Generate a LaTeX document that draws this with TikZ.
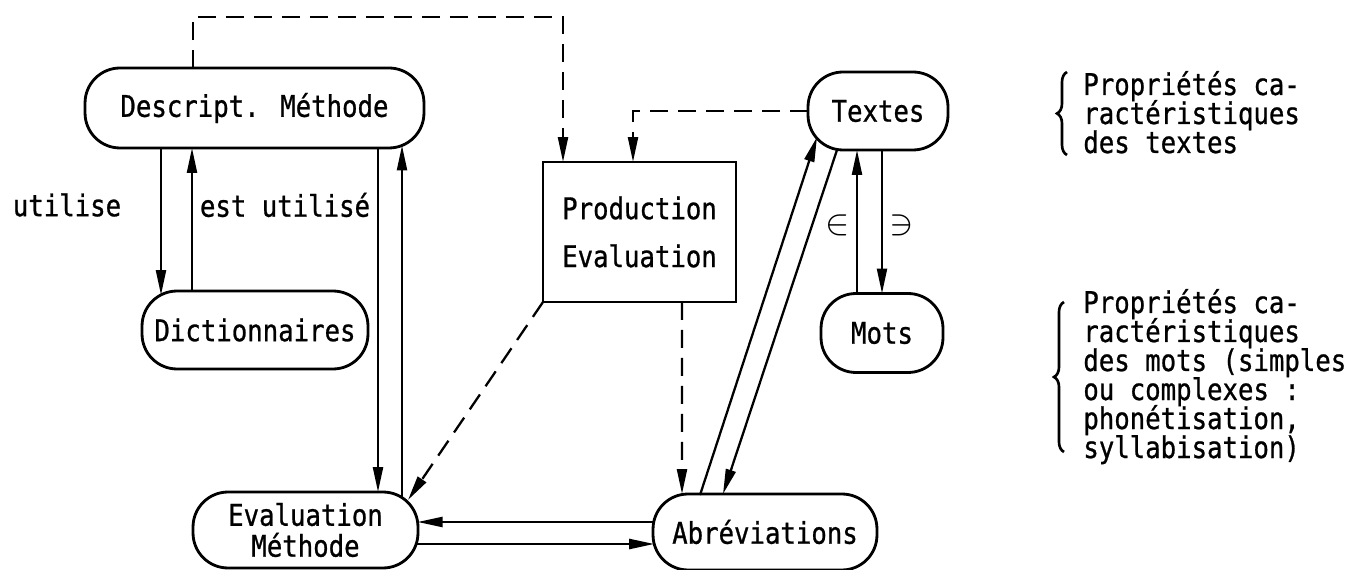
\documentclass[tikz,border=0pt]{standalone}
\usepackage{fontspec}
\setmainfont{DejaVu Sans Mono}[FakeStretch=0.86,FakeBold=0.8]
\usetikzlibrary{calc,arrows.meta,decorations.pathreplacing}
\tikzset{
  every node/.style={font=\fontsize{17}{17.6}\selectfont},
  rbox/.style={draw, line width=1.6pt, rounded corners=0.7cm, inner sep=0pt, outer sep=0pt, align=center},
  sbox/.style={draw, line width=1.5pt, inner sep=0pt, outer sep=0pt, align=center},
  arr/.style={line width=1.3pt, -{Triangle[length=0.5cm,width=0.2cm]}},
  dsh/.style={dash pattern=on 0.36cm off 0.2cm},
  lbl/.style={inner sep=0pt},
  rline/.style={inner sep=0pt, anchor=base west},
  sym/.style={inner sep=0pt, font=\fontsize{22}{22}\selectfont},
  brc/.style={decorate, decoration={brace, amplitude=0.2cm}, line width=1.5pt},
}
\begin{document}
\begin{tikzpicture}[x=0.02cm,y=-0.02cm]
\useasboundingbox (0,0) rectangle (1351,570);

% nodes
\node[rbox, minimum width=6.78cm, minimum height=1.6cm] (desc) at (254.5,108) {Descript. Méthode};
\node[rbox, minimum width=4.52cm, minimum height=1.56cm] (dict) at (255,330) {Dictionnaires};
\node[rbox, minimum width=4.5cm, minimum height=1.52cm, font=\fontsize{17}{17.6}\selectfont] (eval) at (305.5,530) {Evaluation\\Méthode};
\node[sbox, minimum width=3.86cm, minimum height=2.8cm, font=\fontsize{17}{27.3}\selectfont] (prod) at (639.5,232) {Production\\Evaluation};
\node[rbox, minimum width=2.8cm, minimum height=1.56cm] (textes) at (878,111) {Textes};
\node[rbox, minimum width=2.44cm, minimum height=1.58cm] (mots) at (882,333) {Mots};
\node[rbox, minimum width=4.48cm, minimum height=1.52cm] (abrev) at (765,532) {Abréviations};

% labels
\node[lbl] (lutil) at (67,205) {utilise};
\node[lbl] (lestu) at (285,205) {est utilisé};
\node[sym] (lin) at (838,225) {$\in$};
\node[sym] (lni) at (902,225) {$\ni$};

\node[rline] (pt1) at (1083,95) {Propriétés ca-};
\node[rline] (pt2) at (1083,124) {ractéristiques};
\node[rline] (pt3) at (1083,153) {des textes};

\node[rline] (pm1) at (1083,313) {Propriétés ca-};
\node[rline] (pm2) at (1083,342) {ractéristiques};
\node[rline] (pm3) at (1083,371) {des mots (simples};
\node[rline] (pm4) at (1083,400) {ou complexes :};
\node[rline] (pm5) at (1083,429) {phonétisation,};
\node[rline] (pm6) at (1083,458) {syllabisation)};

\coordinate (b1a) at (1067,155);
\coordinate (b1b) at (1067,72);
\coordinate (b2a) at (1064,452);
\coordinate (b2b) at (1064,302);
\draw[brc] (b1a) -- (b1b);
\draw[brc] (b2a) -- (b2b);

% dashed connectors
\coordinate (topcorner) at (563,17);
\draw[arr,dsh] ($(desc.north)+(-61.5,0)$) |- (topcorner) -- ($(prod.north)+(-76.5,0)$);
\draw[arr,dsh] (textes.west) -| ($(prod.north)+(-6.5,0)$);
\draw[arr,dsh] (prod.south west) -- ($(eval.north east)+(-10,8)$);
\draw[arr,dsh] ($(prod.south)+(42.5,0)$) -- ($(abrev.north)+(-83,0)$);

% solid connectors
\draw[arr] ($(desc.south)+(-93.5,0)$) -- ($(dict.north)+(-94,4)$);
\draw[arr] ($(dict.north)+(-63,0)$) -- ($(desc.south)+(-62.5,0)$);
\draw[arr] ($(desc.south)+(123.5,0)$) -- ($(eval.north)+(72.5,0)$);
\draw[arr] ($(eval.north)+(96.5,5.6)$) -- ($(desc.south)+(147.5,-2.5)$);
\draw[arr] ($(abrev.west)+(0.7,-10)$) -- ($(eval.east)+(-0.4,-8)$);
\draw[arr] ($(eval.east)+(-1.8,14)$) -- ($(abrev.west)+(1.2,12)$);
\draw[arr] ($(abrev.north)+(-65,1)$) -- ($(textes.south west)+(9,-13)$);
\draw[arr] ($(textes.south)+(-41,0)$) -- ($(abrev.north)+(-42,0)$);
\draw[arr] ($(mots.north)+(-25,0)$) -- ($(textes.south)+(-21,0)$);
\draw[arr] ($(textes.south)+(4,0)$) -- (mots.north);
\end{tikzpicture}
\end{document}
